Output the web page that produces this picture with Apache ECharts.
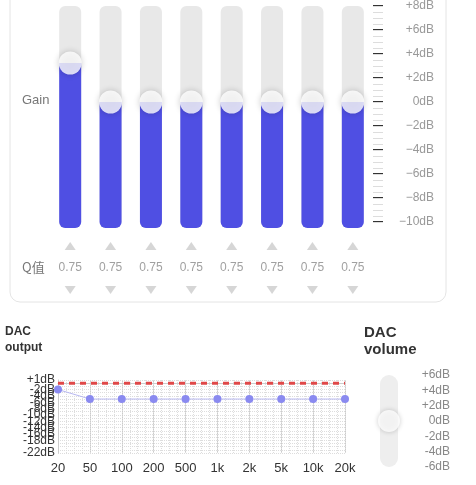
<!DOCTYPE html><html><head><meta charset="utf-8"><script src="https://cdn.jsdelivr.net/npm/echarts@6/dist/echarts.min.js"></script>
<style>html,body{margin:0;padding:0;background:#fff}#c{width:476px;height:485px}</style></head><body><div id="c"></div><script>
const bands=['1','2','3','4','5','6','7','8'];
const gains=[3.25,0,0,0,0,0,0,0];
const qValues=['0.75','0.75','0.75','0.75','0.75','0.75','0.75','0.75'];
const gainTicks=[-10,-8,-6,-4,-2,0,2,4,6,8];
const freqs=['20','50','100','200','500','1k','2k','5k','10k','20k'];
const dacOut=[-2,-5,-5,-5,-5,-5,-5,-5,-5,-5];
const dacLimit=[0,0,0,0,0,0,0,0,0,0];
const dacTicks=[1,0,-2,-4,-6,-8,-10,-12,-14,-16,-18,-20,-22];
const volTicks=[6,4,2,0,-2,-4,-6];
const volume=[0];
const GMIN=-10.5,GMAX=8;
const fmt=v=>(v>0?'+':v<0?'\u2212':'')+Math.abs(v)+'dB';
const fmt2=v=>(v>0?'+':v<0?'-':'')+Math.abs(v)+'dB';
const minor=[];for(let v=GMIN+0.5;v<=GMAX;v+=0.5)minor.push(v);
const ch=echarts.init(document.getElementById('c'));
ch.setOption({animation:false,
graphic:[
{type:'rect',shape:{x:10,y:-12,width:436,height:314,r:10},style:{fill:'#fff',stroke:'#e4e4e4',lineWidth:1},z:-10},
{type:'text',left:22,top:94,style:{text:'Gain',fill:'#777',font:'13px "Liberation Sans"'}},
{type:'text',left:22,top:261,style:{text:'Q值',fill:'#777',font:'13px "Noto Sans CJK SC"'}},
{type:'text',left:5,top:324,style:{text:'DAC\noutput',fill:'#333',font:'15px "Liberation Sans"',lineHeight:16,fontWeight:'bold'}},
{type:'text',left:364,top:324,style:{text:'DAC\nvolume',fill:'#333',font:'bold 15px "Liberation Sans"',lineHeight:17,align:'center',x:392}}
],
grid:[{left:50,width:323,top:6,height:222},{left:50,width:323,top:246,height:44},{left:58,width:287,top:380,height:73},{left:380,width:18,top:375,height:92}],
xAxis:[
{gridIndex:0,type:'category',data:bands,show:false},
{gridIndex:1,type:'category',data:bands,show:false},
{gridIndex:2,type:'category',data:freqs,boundaryGap:false,axisLine:{lineStyle:{color:'#ccc'}},axisTick:{show:false},splitLine:{show:true,lineStyle:{color:'#ccc'}},axisLabel:{color:'#333',fontSize:13,margin:9}},
{gridIndex:2,type:'value',min:0,max:9,interval:0.25,show:true,axisLine:{show:false},axisTick:{show:false},axisLabel:{show:false},splitLine:{lineStyle:{color:'#ddd',type:'dotted'}}},
{gridIndex:3,type:'category',data:['v'],show:false}
],
yAxis:[
{gridIndex:0,type:'value',min:0,max:GMAX-GMIN,show:false},
{gridIndex:0,type:'value',min:GMIN,max:GMAX,position:'right',axisLine:{show:false},splitLine:{show:false},
 axisTick:{show:true,length:10,lineStyle:{color:'#333',width:2},customValues:gainTicks},
 axisLabel:{customValues:gainTicks,formatter:fmt,color:'#999',fontSize:12,align:'right',margin:61}},
{gridIndex:0,type:'value',min:GMIN,max:GMAX,position:'right',axisLine:{show:false},splitLine:{show:false},
 axisTick:{show:true,length:10,lineStyle:{color:'#ddd',width:1},customValues:minor},axisLabel:{show:false}},
{gridIndex:1,type:'value',min:0,max:2,show:false},
{gridIndex:2,type:'value',min:-22,max:1,axisLine:{show:true,lineStyle:{color:'#ccc'}},splitLine:{show:false},axisTick:{show:false},
 axisLabel:{customValues:dacTicks,formatter:fmt2,color:'#333',fontSize:12,margin:3,hideOverlap:false,showMinLabel:true,showMaxLabel:true}},
{gridIndex:2,type:'value',min:-22,max:1,interval:1,show:true,axisLine:{show:false},axisTick:{show:false},axisLabel:{show:false},splitLine:{lineStyle:{color:'#ddd',type:'dotted'}}},
{gridIndex:3,type:'value',min:-6,max:6,position:'right',axisLine:{show:false},axisTick:{show:false},splitLine:{show:false},
 axisLabel:{customValues:volTicks,formatter:fmt2,color:'#888',fontSize:12,align:'right',margin:52}}
],
series:[
{type:'bar',xAxisIndex:0,yAxisIndex:0,data:gains.map(g=>g-GMIN),barWidth:22,itemStyle:{color:'#4f4fe3',borderRadius:[0,0,6,6]},showBackground:true,backgroundStyle:{color:'#e8e8e8',borderRadius:6}},
{type:'scatter',xAxisIndex:0,yAxisIndex:1,data:gains,symbolSize:23,itemStyle:{color:'#fff',shadowBlur:6,shadowColor:'rgba(0,0,0,0.25)'},z:5},
{type:'scatter',xAxisIndex:1,yAxisIndex:3,data:bands.map(()=>2),symbol:'triangle',symbolSize:[11,8],itemStyle:{color:'#ccc'}},
{type:'scatter',xAxisIndex:1,yAxisIndex:3,data:bands.map(()=>0),symbol:'triangle',symbolRotate:180,symbolSize:[11,8],itemStyle:{color:'#ccc'}},
{type:'scatter',xAxisIndex:1,yAxisIndex:3,data:qValues.map(()=>1),symbolSize:0,label:{show:true,position:'inside',formatter:p=>qValues[p.dataIndex],color:'#888',fontSize:12}},
{type:'line',xAxisIndex:2,yAxisIndex:4,data:dacLimit,symbol:'none',lineStyle:{color:'#e04848',type:[6,5],width:3}},
{type:'line',xAxisIndex:2,yAxisIndex:4,data:dacOut,symbol:'circle',symbolSize:8,itemStyle:{color:'#8a8af0'},lineStyle:{color:'#b8b8f0',width:1}},
{type:'bar',xAxisIndex:4,yAxisIndex:6,data:[6],barWidth:18,itemStyle:{color:'transparent'},showBackground:true,backgroundStyle:{color:'#eee',borderRadius:9}},
{type:'scatter',xAxisIndex:4,yAxisIndex:6,data:volume,symbolSize:22,itemStyle:{color:'#fff',shadowBlur:5,shadowColor:'rgba(0,0,0,0.25)'},z:5}
]});
</script></body></html>
